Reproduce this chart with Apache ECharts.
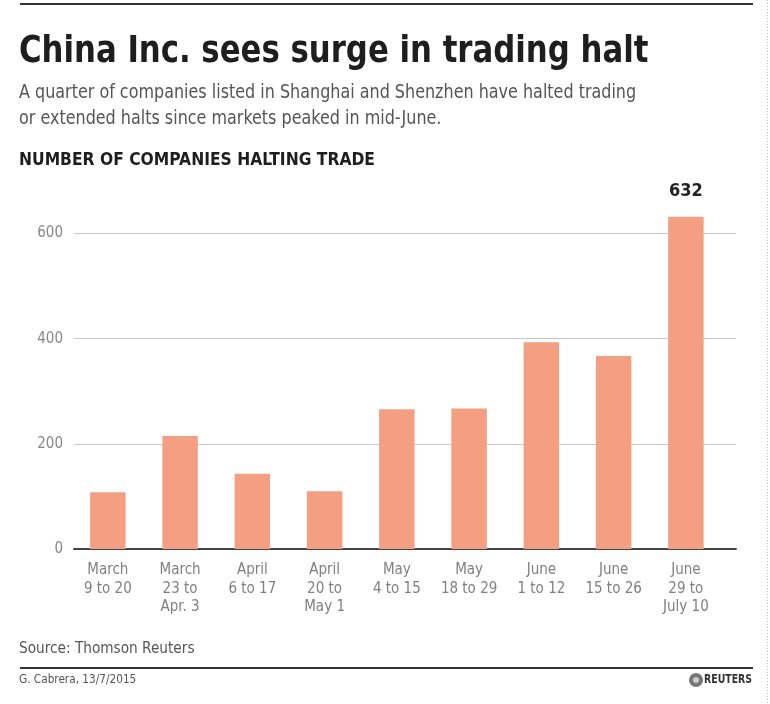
<!DOCTYPE html>
<html><head><meta charset="utf-8">
<script src="https://cdn.jsdelivr.net/npm/echarts@6/dist/echarts.min.js"></script>
<style>html,body{margin:0;padding:0;background:#fff}#c{width:770px;height:704px}</style>
</head><body><div id="c"></div>
<script>
const categories = ["March\n9 to 20","March\n23 to\nApr. 3","April\n6 to 17","April\n20 to\nMay 1","May\n4 to 15","May\n18 to 29","June\n1 to 12","June\n15 to 26","June\n29 to\nJuly 10"];
const values = [108, 215, 143, 110, 266, 267, 393, 367, 632];
const yTicks = [0, 200, 400, 600];
const labelledIndex = 8;

const FAM = "'DejaVu Sans Condensed','Liberation Sans',sans-serif";
function txt(text, x, y, sx, font, fill, extra){
  return Object.assign({type:'text', x:x, y:y, scaleX:sx, scaleY:1,
    style:Object.assign({text:text, font:font, fill:fill, verticalAlign:'top', align:'left'}, extra||{})});
}
const chart = echarts.init(document.getElementById('c'), null, {renderer:'canvas'});
chart.setOption({
  backgroundColor:'#fff',
  animation:false,
  graphic:[
    {type:'rect', shape:{x:20,y:3,width:733,height:2}, style:{fill:'#333'}},
    {type:'rect', shape:{x:20,y:667,width:733,height:2}, style:{fill:'#333'}},
    {type:'line', shape:{x1:767.5,y1:0,x2:767.5,y2:704}, style:{stroke:'#bbb', lineWidth:1, lineDash:[1,2]}},
    txt('China Inc. sees surge in trading halt', 19, 33, 0.9, "bold 38px "+FAM, '#1e1e1e'),
    txt('A quarter of companies listed in Shanghai and Shenzhen have halted trading\nor extended halts since markets peaked in mid-June.', 19, 80, 0.935, "19px "+FAM, '#555', {lineHeight:26}),
    txt('NUMBER OF COMPANIES HALTING TRADE', 19, 151, 0.96, "bold 18px "+FAM, '#1e1e1e'),
    txt('Source: Thomson Reuters', 19, 641, 0.95, "16px "+FAM, '#555'),
    txt('G. Cabrera, 13/7/2015', 19, 673, 0.9, "13px "+FAM, '#555'),
    txt('REUTERS', 752, 673, 0.8, "bold 13px "+FAM, '#333', {align:'right'}),
    {type:'circle', shape:{cx:696,cy:680,r:7}, style:{fill:'#777'}},
    {type:'circle', shape:{cx:696,cy:680,r:3}, style:{fill:'#ccc'}}
  ],
  grid:[
    {left:74, right:34, top:233.5, bottom:155},
    {left:71.7, right:48, top:233.5, bottom:155}
  ],
  xAxis:[
    {gridIndex:0, type:'value', min:0, max:1, axisLine:{show:true, onZero:false, lineStyle:{color:'#444', width:2}},
     axisTick:{show:false}, axisLabel:{show:false}, splitLine:{show:false}},
    {gridIndex:1, type:'category', data:categories, axisLine:{show:false}, axisTick:{show:false},
     axisLabel:{interval:0, margin:12, color:'#808080', fontFamily:FAM, fontSize:15, lineHeight:18.5}}
  ],
  yAxis:[
    {gridIndex:0, type:'value', min:0, max:600, interval:200,
     axisLine:{show:false}, axisTick:{show:false},
     axisLabel:{margin:11, color:'#888', fontFamily:FAM, fontSize:15,
       formatter:v=>yTicks.includes(v)?String(v):''},
     splitLine:{show:true, lineStyle:{color:'#c8c8c8', width:1}}},
    {gridIndex:1, type:'value', min:0, max:600, interval:200, show:false, splitLine:{show:false}}
  ],
  series:[{
    type:'bar', xAxisIndex:1, yAxisIndex:1, clip:false, barWidth:35.5,
    itemStyle:{color:'#f59f82'},
    data: values.map((v,i)=> i===labelledIndex ? {value:v, label:{show:true, position:'top', distance:16,
      formatter:'{c}', color:'#222', fontFamily:FAM, fontWeight:'bold', fontSize:18}} : v)
  }]
});
</script></body></html>
